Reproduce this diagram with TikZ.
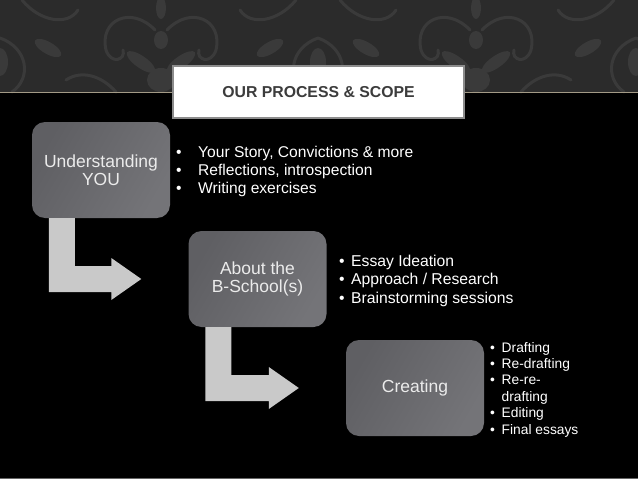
\documentclass[tikz,border=0pt]{standalone}
\usepackage{fontspec}
\setmainfont{Liberation Sans}
\usetikzlibrary{calc,positioning}

\definecolor{topbg}{HTML}{2B2B2B}
\definecolor{damask}{HTML}{3A3A3A}
\definecolor{tanline}{HTML}{A39A86}
\definecolor{arrowgrey}{HTML}{C9C9C9}
\definecolor{boxlight}{HTML}{747478}
\definecolor{boxdark}{HTML}{5F5F63}
\definecolor{boxtext}{HTML}{EBEBEB}
\definecolor{titletext}{HTML}{3C3C3C}
\definecolor{titleborder}{HTML}{8C8C8C}

\newcommand{\itembul}[1]{\makebox[#1][l]{\textbullet}}

% bent block arrow from below one box into the side of the next
\newcommand{\bentarrow}[2]{%
  \fill[arrowfill] let \p1=(#1.south west), \p2=(#2.west) in
    (\x1+17pt,\y1) -- (\x1+43pt,\y1) -- (\x1+43pt,\y2+13pt)
    -- (\x2-77pt,\y2+13pt) -- (\x2-77pt,\y2+21pt) -- (\x2-47pt,\y2)
    -- (\x2-77pt,\y2-21pt) -- (\x2-77pt,\y2-13pt) -- (\x1+17pt,\y2-13pt) -- cycle;}

\tikzset{
  stepbox/.style={rectangle, rounded corners=13pt, minimum width=138pt,
    minimum height=96pt, inner sep=2pt, align=center, text=boxtext,
    shade, shading=axis, left color=boxdark, right color=boxlight, shading angle=60,
    font=\fontsize{17.5}{18}\selectfont},
  bullets/.style={anchor=north west, inner sep=0pt, align=left, text=white},
  titlebox/.style={rectangle, draw=titleborder, line width=1.5pt, fill=white,
    minimum width=291pt, minimum height=52pt, text=titletext,
    font=\bfseries\fontsize{15.8}{18}\selectfont},
  arrowfill/.style={fill=arrowgrey},
  leaf/.style={fill=damask},
  scroll/.style={draw=damask, line width=3pt, line cap=round},
}

\begin{document}
\begin{tikzpicture}[x=1pt, y=-1pt]
  \useasboundingbox (0,0) rectangle (638,479);

  % Background
  \fill[black] (0,0) rectangle (638,479);
  \fill[topbg] (0,0) rectangle (638,92);

  % Damask pattern, fleur motifs
  \foreach \cx in {161,476} {
    \fill[leaf] (\cx,8) ellipse (5pt and 11pt);
    \fill[leaf] (\cx,40) ellipse (7pt and 9pt);
    \fill[leaf, rotate around={35:(\cx+20,62)}] (\cx+20,62) ellipse (17pt and 6pt);
    \fill[leaf, rotate around={-35:(\cx-20,62)}] (\cx-20,62) ellipse (17pt and 6pt);
    \fill[leaf] (\cx,80) ellipse (14pt and 12pt);
    \draw[scroll] (\cx+6,30) .. controls (\cx+30,5) and (\cx+62,20) .. (\cx+55,50)
      .. controls (\cx+50,65) and (\cx+35,60) .. (\cx+38,50);
    \draw[scroll] (\cx-6,30) .. controls (\cx-30,5) and (\cx-62,20) .. (\cx-55,50)
      .. controls (\cx-50,65) and (\cx-35,60) .. (\cx-38,50);
    \draw[scroll] (\cx+45,92) .. controls (\cx+60,75) and (\cx+80,70) .. (\cx+95,80);
    \draw[scroll] (\cx-45,92) .. controls (\cx-60,75) and (\cx-80,70) .. (\cx-95,80);
  }
  % Damask pattern, ogee motifs
  \foreach \cx in {0,318,636} {
    \draw[scroll] (\cx,38) .. controls (\cx+28,48) and (\cx+32,78) .. (\cx+12,92);
    \draw[scroll] (\cx,38) .. controls (\cx-28,48) and (\cx-32,78) .. (\cx-12,92);
    \draw[scroll] (\cx+22,0) .. controls (\cx+40,22) and (\cx+68,26) .. (\cx+78,10);
    \draw[scroll] (\cx-22,0) .. controls (\cx-40,22) and (\cx-68,26) .. (\cx-78,10);
    \fill[leaf] (\cx,62) ellipse (8pt and 14pt);
    \fill[leaf, rotate around={-30:(\cx+48,48)}] (\cx+48,48) ellipse (15pt and 6pt);
    \fill[leaf, rotate around={30:(\cx-48,48)}] (\cx-48,48) ellipse (15pt and 6pt);
  }
  \draw[tanline, line width=1pt] (0,92) -- (638,92);
  \draw[black!60!white, line width=1pt] (0,478.5) -- (638,478.5);

  % Title
  \node[titlebox] (title) at (318.5,92) {OUR PROCESS \& SCOPE};

  % Steps
  \node[stepbox] (you) at (101,170) {Understanding\\YOU};
  \node[stepbox] (school) at (257.5,279) {About the\\B-School(s)};
  \node[stepbox] (create) at (415,388) {Creating};

  % Arrows
  \bentarrow{you}{school}
  \bentarrow{school}{create}

  % Bullet lists
  \node[bullets, font=\fontsize{15.6}{18}\selectfont] (youlist) at (176,144.4)
    {\strut\itembul{22pt}Your Story, Convictions \& more\\
     \itembul{22pt}Reflections, introspection\\
     \itembul{22pt}Writing exercises};
  \node[bullets, font=\fontsize{15.7}{18.5}\selectfont] (schoollist) at (339,253)
    {\strut\itembul{12pt}Essay Ideation\\
     \itembul{12pt}Approach / Research\\
     \itembul{12pt}Brainstorming sessions};
  \node[bullets, font=\fontsize{13.8}{16.4}\selectfont] (createlist) at (490,340.5)
    {\strut\itembul{11.5pt}Drafting\\
     \itembul{11.5pt}Re-drafting\\
     \itembul{11.5pt}Re-re-\\
     \hspace*{11.5pt}drafting\\
     \itembul{11.5pt}Editing\\
     \itembul{11.5pt}Final essays};
\end{tikzpicture}
\end{document}
